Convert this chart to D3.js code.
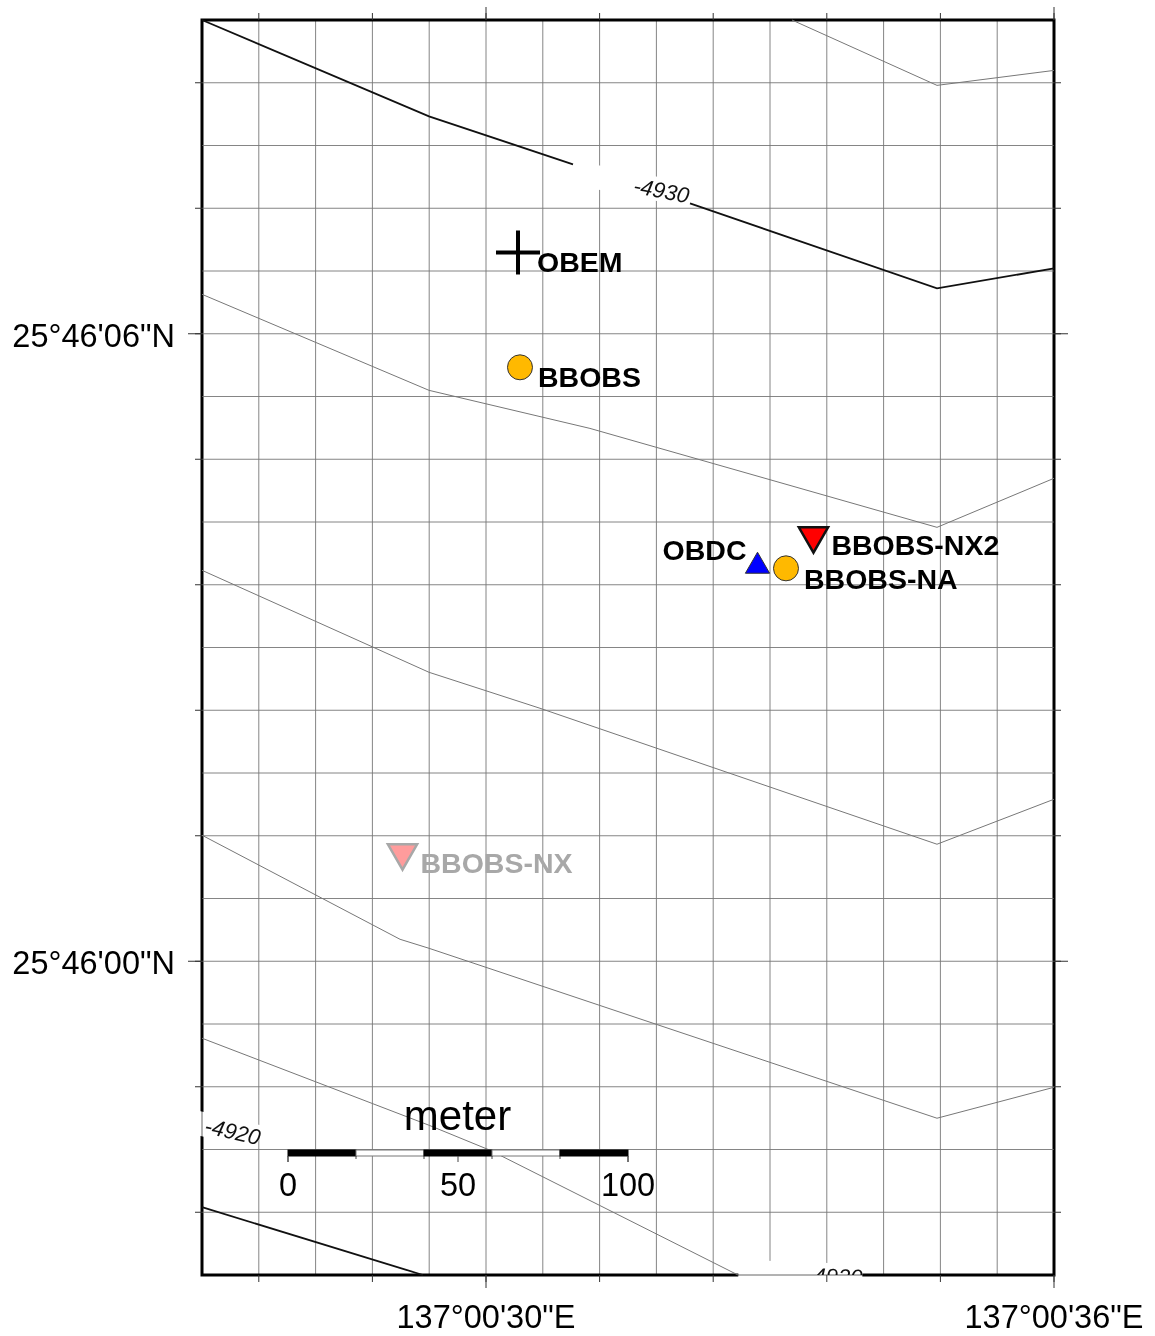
<!DOCTYPE html>
<html>

<head>
    <meta http-equiv="Content-Type" content="text/html" charset="UTF-8">
    <title>Site map</title>
    <script src="https://d3js.org/d3.v7.min.js" charset="utf-8"></script>
    <style>
        body { margin: 0; background: #fff; }
        svg { display: block; filter: blur(0.45px); font-family: "Liberation Sans", Arial, sans-serif; }
    </style>
</head>
<body>
<svg id="map" width="1155" height="1336"></svg>
<script>

    // All longitudes are seconds past 137°00', latitudes seconds past 25°46'
    var lonDomain = [27, 36];
    var latDomain = [-3, 9];

    var lonLabelled = [30, 36];
    var lonLabels = ["137°00'30\"E", "137°00'36\"E"];
    var latLabelled = [6, 0];
    var latLabels = ["25°46'06\"N", "25°46'00\"N"];

    var lonMinorTicks = [27.6, 28.8, 30, 31.2, 32.4, 33.6, 34.8, 36];
    var latMinorTicks = [8.4, 7.2, 6, 4.8, 3.6, 2.4, 1.2, 0, -1.2, -2.4];

    var lonGrid = [27.6, 28.2, 28.8, 29.4, 30, 30.6, 31.2, 31.8, 32.4, 33, 33.6, 34.2, 34.8, 35.4];
    var latGrid = [8.4, 7.8, 7.2, 6.6, 6, 5.4, 4.8, 4.2, 3.6, 3, 2.4, 1.8, 1.2, 0.6, 0, -0.6, -1.2, -1.8, -2.4];

    // Contours as [lon, lat]; the annotated ones are split where the label sits
    var contour4930a = [[27, 9], [29.398, 8.078], [30.919, 7.62]];
    var contour4930b = [[32.155, 7.247], [34.764, 6.434], [36, 6.625]];
    var contourTop = [[33.232, 9], [34.764, 8.375], [36, 8.518]];
    var contourA = [[27, 6.377], [29.398, 5.459], [31.098, 5.095], [34.764, 4.149], [36, 4.618]];
    var contourB = [[27, 3.738], [29.398, 2.763], [30.57, 2.419], [34.764, 1.119], [36, 1.549]];
    var contourC = [[27, 1.205], [29.092, 0.21], [29.398, 0.124], [34.764, -1.501], [36, -1.205]];
    var contourD = [[27, -0.736], [29.398, -1.568], [30.042, -1.807], [32.662, -3]];
    var contour4920 = [[27, -2.352], [29.334, -3]];

    var thinContours = [contourTop, contourA, contourB, contourC, contourD];
    var thickContours = [contour4930a, contour4930b, contour4920];

    var circleStations = [[30.359, 5.679], [33.169, 3.757]];
    var obemStation = [30.338, 6.778];
    var obdcStation = [32.868, 3.777];
    var nx2Station = [33.459, 4.068];
    var nxStation = [29.118, 1.037];

    var scaleSegments = [0, 20, 40, 60, 80, 100];
    var scaleLabels = [0, 50, 100];

    var svg = d3.select("#map");

    var x = d3.scaleLinear().domain(lonDomain).range([202, 1054]);
    var y = d3.scaleLinear().domain(latDomain).range([1275, 20]);
    var bar = d3.scaleLinear().domain([0, 100]).range([288, 628]);

    var line = d3.line()
        .x(function (d) { return x(d[0]); })
        .y(function (d) { return y(d[1]); });

    var GRID = "#777";

    // Vertical grid goes under the label patches
    svg.append("g").selectAll("line")
        .data(lonGrid)
        .join("line")
        .attr("x1", function (d) { return x(d); })
        .attr("x2", function (d) { return x(d); })
        .attr("y1", 20)
        .attr("y2", 1275)
        .attr("stroke", GRID)
        .attr("stroke-width", 0.9);

    // Thick frame, also broken by the patches
    svg.append("rect")
        .attr("x", 202).attr("y", 20).attr("width", 852).attr("height", 1255)
        .attr("fill", "none")
        .attr("stroke", "#000")
        .attr("stroke-width", 3);

    // White patches behind the contour labels
    var patches = [
        {cx: 632, cy: 184, w: 118, h: 24, a: 11},
        {cx: 228, cy: 1130, w: 64, h: 24, a: 13},
        {cx: 800, cy: 1285, w: 124, h: 46, a: 2}
    ];
    svg.append("g").selectAll("rect")
        .data(patches)
        .join("rect")
        .attr("x", function (d) { return -d.w / 2; })
        .attr("y", function (d) { return -d.h / 2; })
        .attr("width", function (d) { return d.w; })
        .attr("height", function (d) { return d.h; })
        .attr("fill", "#fff")
        .attr("transform", function (d) { return "translate(" + d.cx + "," + d.cy + ") rotate(" + d.a + ")"; });

    // Horizontal grid
    svg.append("g").selectAll("line")
        .data(latGrid)
        .join("line")
        .attr("x1", 202)
        .attr("x2", 1054)
        .attr("y1", function (d) { return y(d); })
        .attr("y2", function (d) { return y(d); })
        .attr("stroke", GRID)
        .attr("stroke-width", 0.9);

    // Thin outline that stays visible through the patches, multiply keeps the frame black
    svg.append("rect")
        .attr("x", 202).attr("y", 20).attr("width", 852).attr("height", 1255)
        .attr("fill", "none")
        .attr("stroke", "#666")
        .attr("stroke-width", 1)
        .style("mix-blend-mode", "multiply");

    // Contours
    svg.append("g").selectAll("path")
        .data(thinContours)
        .join("path")
        .attr("d", line)
        .attr("fill", "none")
        .attr("stroke", "#777")
        .attr("stroke-width", 1);

    svg.append("g").selectAll("path")
        .data(thickContours)
        .join("path")
        .attr("d", line)
        .attr("fill", "none")
        .attr("stroke", "#111")
        .attr("stroke-width", 1.8);

    // Contour labels
    svg.append("clipPath").attr("id", "plot-clip")
        .append("rect").attr("x", 0).attr("y", 0).attr("width", 1155).attr("height", 1275);

    var contourLabels = [
        {text: "-4930", cx: 660, cy: 198, a: 11},
        {text: "-4920", cx: 231, cy: 1139, a: 13},
        {text: "-4920", cx: 834, cy: 1284, a: 2}
    ];
    svg.append("g")
        .attr("clip-path", "url(#plot-clip)")
        .selectAll("text")
        .data(contourLabels)
        .join("text")
        .attr("text-anchor", "middle")
        .attr("font-size", 22)
        .attr("font-style", "italic")
        .attr("fill", "#111")
        .attr("transform", function (d) { return "translate(" + d.cx + "," + d.cy + ") rotate(" + d.a + ")"; })
        .text(function (d) { return d.text; });

    // Ticks and axis labels
    function clean(g) {
        g.select(".domain").remove();
        g.selectAll("line").attr("stroke", "#333").attr("stroke-width", 1);
    }

    svg.append("g").attr("transform", "translate(0,20)")
        .call(d3.axisTop(x).tickValues(lonMinorTicks).tickSize(7).tickFormat("").offset(0)).call(clean);
    svg.append("g").attr("transform", "translate(0,1275)")
        .call(d3.axisBottom(x).tickValues(lonMinorTicks).tickSize(7).tickFormat("").offset(0)).call(clean);
    svg.append("g").attr("transform", "translate(202,0)")
        .call(d3.axisLeft(y).tickValues(latMinorTicks).tickSize(7).tickFormat("").offset(0)).call(clean);
    svg.append("g").attr("transform", "translate(1054,0)")
        .call(d3.axisRight(y).tickValues(latMinorTicks).tickSize(7).tickFormat("").offset(0)).call(clean);

    svg.append("g").attr("transform", "translate(0,20)")
        .call(d3.axisTop(x).tickValues(lonLabelled).tickSize(13).tickFormat("").offset(0)).call(clean);
    svg.append("g").attr("transform", "translate(1054,0)")
        .call(d3.axisRight(y).tickValues(latLabelled).tickSize(14).tickFormat("").offset(0)).call(clean);

    var lonAxis = svg.append("g").attr("transform", "translate(0,1275)")
        .call(d3.axisBottom(x).tickValues(lonLabelled).tickSize(13).tickPadding(17).offset(0)
            .tickFormat(function (d, i) { return lonLabels[i]; }))
        .call(clean);
    lonAxis.selectAll("text")
        .attr("font-size", 32.5)
        .attr("font-family", "Liberation Sans")
        .attr("fill", "#000");

    var latAxis = svg.append("g").attr("transform", "translate(202,0)")
        .call(d3.axisLeft(y).tickValues(latLabelled).tickSize(14).tickPadding(13).offset(0)
            .tickFormat(function (d, i) { return latLabels[i]; }))
        .call(clean);
    latAxis.selectAll("text")
        .attr("font-size", 32.5)
        .attr("font-family", "Liberation Sans")
        .attr("fill", "#000")
        .attr("dy", 13);

    // Station marks
    function at(d) { return "translate(" + x(d[0]) + "," + y(d[1]) + ")"; }

    svg.append("g").selectAll("circle")
        .data(circleStations)
        .join("circle")
        .attr("transform", at)
        .attr("r", 12.5)
        .attr("fill", "#ffb900")
        .attr("stroke", "#333")
        .attr("stroke-width", 1);

    svg.append("path")
        .attr("transform", at(obemStation))
        .attr("d", "M-22,0H22M0,-22V22")
        .attr("fill", "none")
        .attr("stroke", "#000")
        .attr("stroke-width", 4);

    svg.append("path")
        .attr("transform", at(obdcStation))
        .attr("d", d3.symbol().type(d3.symbolTriangle).size(255))
        .attr("fill", "#0000ff")
        .attr("stroke", "#333")
        .attr("stroke-width", 1);

    svg.append("path")
        .attr("transform", at(nx2Station) + " rotate(180)")
        .attr("d", d3.symbol().type(d3.symbolTriangle).size(370))
        .attr("fill", "#ff0000")
        .attr("stroke", "#111")
        .attr("stroke-width", 2.5);

    svg.append("path")
        .attr("transform", at(nxStation) + " rotate(180)")
        .attr("d", d3.symbol().type(d3.symbolTriangle).size(370))
        .attr("fill", "#ff9c9c")
        .attr("stroke", "#a8a8a8")
        .attr("stroke-width", 2.5);

    // Station names
    var stationNames = [
        {text: "OBEM", at: obemStation, dx: 19, dy: 20, anchor: "start", fill: "#000"},
        {text: "BBOBS", at: circleStations[0], dx: 18, dy: 20, anchor: "start", fill: "#000"},
        {text: "BBOBS-NA", at: circleStations[1], dx: 18, dy: 20.5, anchor: "start", fill: "#000"},
        {text: "OBDC", at: obdcStation, dx: -11, dy: -6, anchor: "end", fill: "#000"},
        {text: "BBOBS-NX2", at: nx2Station, dx: 18, dy: 19.5, anchor: "start", fill: "#000"},
        {text: "BBOBS-NX", at: nxStation, dx: 18, dy: 20.5, anchor: "start", fill: "#a8a8a8"}
    ];
    svg.append("g").selectAll("text")
        .data(stationNames)
        .join("text")
        .attr("x", function (d) { return x(d.at[0]) + d.dx; })
        .attr("y", function (d) { return y(d.at[1]) + d.dy; })
        .attr("text-anchor", function (d) { return d.anchor; })
        .attr("font-size", 28.5)
        .attr("font-weight", "bold")
        .attr("fill", function (d) { return d.fill; })
        .text(function (d) { return d.text; });

    // Scale bar
    var scale = svg.append("g");

    scale.selectAll("rect")
        .data(d3.pairs(scaleSegments))
        .join("rect")
        .attr("x", function (d) { return bar(d[0]); })
        .attr("y", 1150)
        .attr("width", function (d) { return bar(d[1]) - bar(d[0]); })
        .attr("height", 6)
        .attr("fill", function (d, i) { return i % 2 ? "#fff" : "#000"; })
        .attr("stroke", function (d, i) { return i % 2 ? "#777" : "#000"; })
        .attr("stroke-width", 1);

    scale.selectAll("line")
        .data(scaleSegments.concat(scaleLabels))
        .join("line")
        .attr("x1", function (d) { return bar(d); })
        .attr("x2", function (d) { return bar(d); })
        .attr("y1", 1156)
        .attr("y2", function (d, i) { return scaleLabels.indexOf(d) >= 0 ? 1162 : 1159; })
        .attr("stroke", "#444")
        .attr("stroke-width", 1);

    scale.selectAll("text.tick")
        .data(scaleLabels)
        .join("text")
        .attr("class", "tick")
        .attr("x", function (d) { return bar(d); })
        .attr("y", 1196)
        .attr("text-anchor", "middle")
        .attr("font-size", 32.5)
        .text(function (d) { return d; });

    scale.append("text")
        .attr("x", 457.5)
        .attr("y", 1130)
        .attr("text-anchor", "middle")
        .attr("font-size", 42)
        .text("meter");

</script>
</body>
</html>
